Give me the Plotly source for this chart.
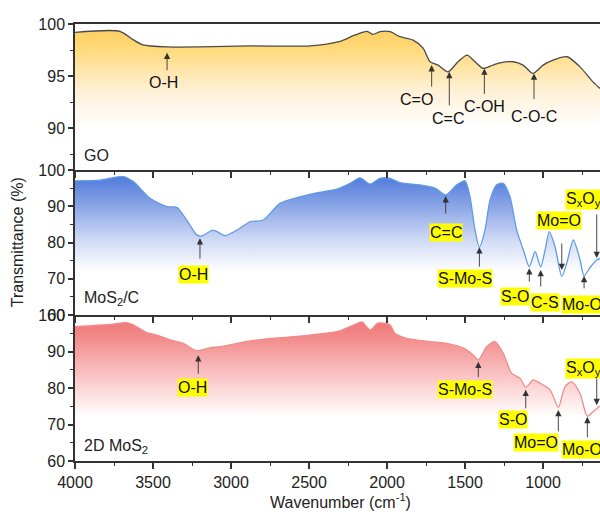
import plotly.graph_objects as go

# ---------------- data ----------------
go_wn = [4000, 3712, 3628, 3564, 3410, 3199, 2878, 2494, 2308, 2212, 2128, 2090, 2045, 1981, 1917,
         1833, 1769, 1724, 1673, 1609, 1545, 1487, 1436, 1385, 1321, 1276, 1192, 1128, 1064, 1000,
         936, 846, 763, 680, 635]
go_t = [99.2, 99.3, 98.5, 98.0, 97.8, 97.8, 97.9, 97.9, 98.3, 98.9, 99.3, 99.0, 99.26, 99.26, 98.78,
        98.46, 97.69, 96.38, 96.06, 95.41, 96.38, 97.02, 96.38, 95.74, 96.06, 96.28, 96.38, 96.06, 95.26, 96.06,
        96.54, 96.86, 95.89, 94.45, 93.82]

mos2c_wn = [4000, 3840, 3690, 3626, 3519, 3412, 3348, 3284, 3220, 3188, 3114, 3038, 2963, 2878, 2793,
            2686, 2558, 2451, 2323, 2237, 2173, 2109, 2045, 1981, 1917, 1789, 1692, 1624, 1553, 1500,
            1468, 1436, 1408, 1372, 1340, 1297, 1255, 1212, 1169, 1126, 1088, 1051, 1015, 987, 960,
            923, 880, 848, 806, 763, 737, 699, 656, 635]
mos2c_t = [97.0, 97.2, 98.2, 96.8, 92.2, 89.9, 89.7, 86.2, 82.1, 81.8, 83.4, 81.9, 83.4, 85.7, 86.2,
           90.8, 92.6, 93.7, 94.7, 96.3, 97.8, 96.1, 97.7, 97.7, 96.5, 95.9, 95.0, 93.1, 95.9, 97.0,
           92.6, 83.4, 78.7, 83.4, 91.7, 95.9, 96.3, 92.6, 83.4, 77.9, 73.3, 77.5, 73.3, 77.9, 83.0,
           78.8, 70.6, 74.3, 80.7, 75.2, 70.8, 73.1, 75.2, 75.6]

mos2_wn = [4000, 3776, 3669, 3626, 3540, 3476, 3391, 3306, 3220, 3135, 3071, 2985, 2899, 2705, 2494,
           2308, 2212, 2160, 2109, 2058, 1981, 1949, 1874, 1724, 1617, 1511, 1447, 1415, 1361, 1308,
           1255, 1201, 1148, 1111, 1062, 1019, 955, 902, 859, 816, 763, 716, 667, 635]
mos2_t = [96.8, 97.4, 97.9, 97.3, 95.2, 94.5, 93.2, 92.2, 90.2, 91.0, 91.3, 92.0, 92.8, 93.7, 94.5,
          95.6, 97.3, 98.1, 95.9, 97.8, 97.3, 95.0, 93.6, 92.7, 92.2, 90.9, 89.0, 87.7, 91.3, 92.7,
          89.5, 84.0, 82.7, 80.2, 82.2, 81.3, 79.5, 74.7, 80.4, 81.7, 78.5, 72.3, 74.0, 75.1]

# peak assignments
go_pk_wn = [3410, 1714, 1601, 1376, 1058]
go_pk_t = [97.24, 96.06, 95.41, 95.74, 95.26]
go_pk_lab = ["O-H", "C=O", "C=C", "C-OH", "C-O-C"]

c_pk_wn = [3199, 1624, 1408, 1088, 1015, 880, 737, 656]
c_pk_t = [81.2, 92.8, 78.7, 72.9, 72.4, 72.4, 70.8, 75.7]
c_pk_lab = ["O-H", "C=C", "S-Mo-S", "S-O", "C-S", "Mo=O", "Mo-O", "S<sub>x</sub>O<sub>y</sub>"]

m_pk_wn = [3210, 1415, 1111, 902, 716, 656]
m_pk_t = [89.0, 87.2, 79.5, 74.0, 72.1, 75.3]
m_pk_lab = ["O-H", "S-Mo-S", "S-O", "Mo=O", "Mo-O", "S<sub>x</sub>O<sub>y</sub>"]

x_range = [4000, 635]

# ---------------- styles (pixel offsets) ----------------
go_arrow = [19, 23, 35, 27, 27]
go_txt = [(-4, 30), (-15, 34), (-1, 47), (0, 38), (0, 43)]
c_arrow = [22, 19, 21, 15, 18, -28, 14, -45]
c_txt = [(-6, 36), (0, 36), (-14, 31), (-14, 28), (4, 32), (-3, -50), (-2, 29), (-13, -59)]
m_arrow = [20, 17, 20, 23, 22, -30]
m_txt = [(-6, 32), (-13, 28), (-13, 30), (-22, 33), (-5, 33), (-13, -37)]

FONT = "Liberation Sans, Arial, sans-serif"
TXT = "#222222"
AX = "#333333"

go_scale = [[0, "#FFFFFF"], [0.3, "#FFFFFF"], [0.55, "#FFF0D4"], [0.85, "#FFD874"], [1, "#FCCB5E"]]
c_scale = [[0, "#FFFFFF"], [0.3, "#FFFFFF"], [0.5, "#D4DDF6"], [0.85, "#6E90E0"], [1, "#4472D8"]]
m_scale = [[0, "#FFFFFF"], [0.3, "#FFFFFF"], [0.5, "#FCD6D6"], [0.85, "#F28A8A"], [1, "#EF6F70"]]

fig = go.Figure()

panels = [
    ("x3", "y3", go_wn, go_t, "#4a4a4a", go_scale, 86),
    ("x2", "y2", mos2c_wn, mos2c_t, "#5E9BE6", c_scale, 60),
    ("x", "y", mos2_wn, mos2_t, "#F08C8C", m_scale, 60),
]
for xa, ya, wn, t, lc, cs, ymin in panels:
    fig.add_trace(go.Scatter(
        x=x_range, y=[ymin, ymin], xaxis=xa, yaxis=ya, mode="lines",
        line=dict(width=0, color="rgba(0,0,0,0)"), showlegend=False, hoverinfo="skip"))
    fig.add_trace(go.Scatter(
        x=wn, y=t, xaxis=xa, yaxis=ya, mode="lines",
        line=dict(color=lc, width=1.3, shape="spline", smoothing=0.7),
        fill="tonexty",
        fillgradient=dict(type="vertical", start=ymin, stop=100, colorscale=cs),
        showlegend=False, hoverinfo="skip"))

annotations = []


def add_labels(wns, ts, labs, arrows, txts, xa, ya, yellow):
    for w, t, lab, a, (dx, dy) in zip(wns, ts, labs, arrows, txts):
        annotations.append(dict(
            x=w, y=t, xref=xa, yref=ya, text="", showarrow=True,
            ax=0, ay=a, arrowhead=2, arrowsize=1.4, arrowwidth=0.9, arrowcolor=AX))
        annotations.append(dict(
            x=w, y=t, xref=xa, yref=ya, text=lab, showarrow=False,
            xshift=dx, yshift=-dy, font=dict(family=FONT, size=16, color="#111111"),
            bgcolor="#FFFF00" if yellow else None, borderpad=0))


add_labels(go_pk_wn, go_pk_t, go_pk_lab, go_arrow, go_txt, "x3", "y3", False)
add_labels(c_pk_wn, c_pk_t, c_pk_lab, c_arrow, c_txt, "x2", "y2", True)
add_labels(m_pk_wn, m_pk_t, m_pk_lab, m_arrow, m_txt, "x", "y", True)

for txt, yp in [("GO", 0.700), ("MoS<sub>2</sub>/C", 0.371), ("2D MoS<sub>2</sub>", 0.033)]:
    annotations.append(dict(text=txt, xref="paper", yref="paper", x=0.013, y=yp,
                            xanchor="left", yanchor="middle", showarrow=False,
                            font=dict(family=FONT, size=16, color=TXT)))

annotations.append(dict(text="Transmittance (%)", xref="paper", yref="paper", x=-0.109, y=0.5,
                        textangle=-90, showarrow=False, xanchor="center", yanchor="middle",
                        font=dict(family=FONT, size=16, color=TXT)))
annotations.append(dict(text="Wavenumber (cm<sup>-1</sup>)", xref="paper", yref="paper", x=0.505,
                        y=-0.091, showarrow=False, xanchor="center", yanchor="middle",
                        font=dict(family=FONT, size=16, color=TXT)))

xcommon = dict(range=x_range, showgrid=False, zeroline=False, showline=True, linecolor=AX,
               linewidth=1.5, mirror=True, ticks="outside", ticklen=6, tickwidth=1.5, tickcolor=AX,
               dtick=500, tick0=0,
               minor=dict(ticks="outside", ticklen=3, tickwidth=1.2, tickcolor=AX, dtick=250),
               tickfont=dict(family=FONT, size=16, color=TXT))
ycommon = dict(showgrid=False, zeroline=False, showline=True, linecolor=AX, linewidth=1.5,
               ticks="outside", ticklen=5, tickwidth=1.5, tickcolor=AX,
               tickfont=dict(family=FONT, size=16, color=TXT))

d1 = 146 / 437
d2 = 291 / 437

fig.update_layout(
    width=600, height=514,
    margin=dict(l=75, r=0, t=24, b=53),
    paper_bgcolor="white", plot_bgcolor="white",
    xaxis=dict(**xcommon, anchor="y", showticklabels=True),
    xaxis2=dict(**xcommon, anchor="y2", matches="x", showticklabels=False),
    xaxis3=dict(**xcommon, anchor="y3", matches="x", showticklabels=False),
    yaxis=dict(**ycommon, domain=[0, d1], range=[60, 100], dtick=10, tick0=0,
               minor=dict(ticks="outside", ticklen=3, tickwidth=1.2, tickcolor=AX, dtick=5)),
    yaxis2=dict(**ycommon, domain=[d1, d2], range=[60, 100], dtick=10, tick0=0,
                minor=dict(ticks="outside", ticklen=3, tickwidth=1.2, tickcolor=AX, dtick=5)),
    yaxis3=dict(**ycommon, domain=[d2, 1], range=[86, 100], dtick=5, tick0=0,
                minor=dict(ticks="outside", ticklen=3, tickwidth=1.2, tickcolor=AX, dtick=2.5)),
    annotations=annotations,
    font=dict(family=FONT, color=TXT),
)

fig.write_html("out.html")
